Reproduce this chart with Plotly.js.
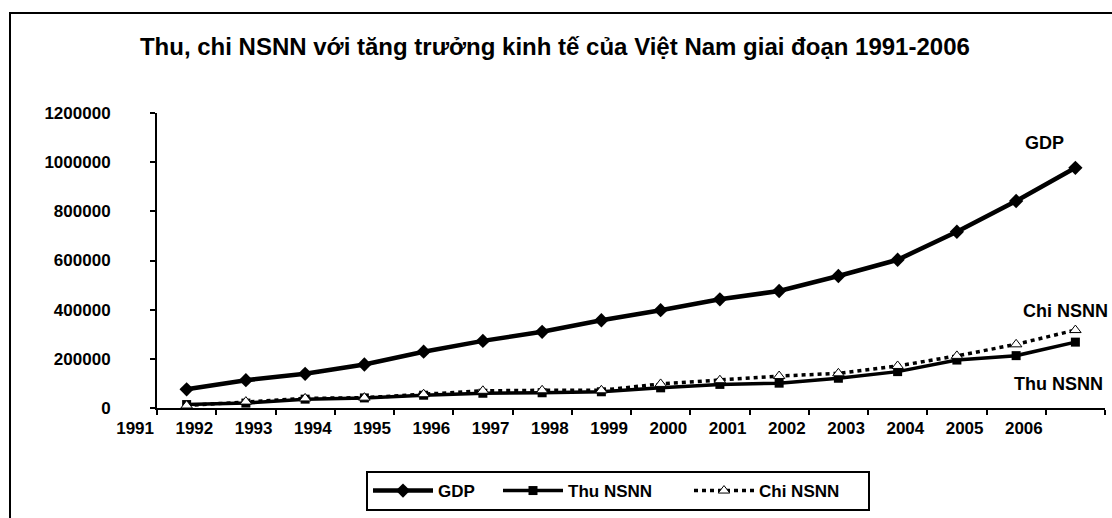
<!DOCTYPE html>
<html>
<head>
<meta charset="utf-8">
<script src="https://cdn.plot.ly/plotly-3.0.1.min.js"></script>
<style>
  html, body { margin: 0; padding: 0; background: #fff; }
  #chart { width: 1112px; height: 518px; }
</style>
</head>
<body>
<div id="chart"></div>
<script>
// ---- Data ----
const years = ['1991','1992','1993','1994','1995','1996','1997','1998','1999','2000','2001','2002','2003','2004','2005','2006'];
const gdp   = [76000, 113000, 139000, 177000, 229000, 273000, 310000, 357000, 398000, 442000, 476000, 537000, 603000, 717000, 842000, 977000];
const thu   = [14000, 20000, 36000, 41000, 52000, 60000, 62000, 66000, 82000, 96000, 101000, 121000, 148000, 195000, 213000, 268000];
const chi   = [10000, 26000, 39000, 42000, 56000, 70000, 72000, 72000, 98000, 113000, 130000, 141000, 171000, 212000, 259000, 317000];
const yTicks = [0, 200000, 400000, 600000, 800000, 1000000, 1200000];
const gridVals = [200000, 400000, 600000, 800000, 1000000];
const seriesNames = ['GDP', 'Thu NSNN', 'Chi NSNN'];
const title = 'Thu, chi NSNN với tăng trưởng kinh tế của Việt Nam giai đoạn 1991-2006';

// ---- Geometry ----
const PL = 100, PR = 1105, AX0 = 157, PT = 113, PB = 408;
const PW = PR - PL, AW = PR - AX0, AH = PB - PT;
const n = years.length;
const unit = AW / n;

const idx = years.map((_, i) => i);
const boundaries = years.map((_, i) => i - 0.5).concat([n - 0.5]);
const labelPos = years.map((_, i) => i - 0.87);
const xr = [-0.5, n - 0.5];
const xr2 = [-0.5 - (AX0 - PL) / unit, n - 0.5];

const FONT = 'Liberation Sans, Arial, sans-serif';
const bold = (size) => ({ family: FONT, size: size, weight: 700, color: '#000' });

const traces = [
  {
    x: idx, y: gdp, name: seriesNames[0], type: 'scatter', mode: 'lines+markers',
    line: { color: '#000', width: 4.5 },
    marker: { symbol: 'diamond', size: 11, color: '#000' },
    legendwidth: 55
  },
  {
    x: idx, y: thu, name: seriesNames[1], type: 'scatter', mode: 'lines+markers',
    line: { color: '#000', width: 3.5 },
    marker: { symbol: 'square', size: 9, color: '#000' },
    legendwidth: 116
  },
  {
    x: idx, y: chi, name: seriesNames[2], type: 'scatter', mode: 'lines+markers',
    line: { color: '#000', width: 3.5, dash: '4px,4px' },
    marker: { symbol: 'triangle-up', size: 10, color: '#fff', line: { color: '#000', width: 1 } },
    legendwidth: 104
  },
  { x: [], y: [], xaxis: 'x2', yaxis: 'y3', showlegend: false, hoverinfo: 'skip' }
];

const layout = {
  width: 1112, height: 518,
  paper_bgcolor: '#fff', plot_bgcolor: 'rgba(0,0,0,0)',
  margin: { l: PL, r: 1112 - PR, t: PT, b: 518 - PB },
  font: bold(17),
  title: {
    text: title, x: 0.499, xanchor: 'center', y: 1 - 47 / 518, yanchor: 'middle',
    font: bold(24)
  },
  showlegend: true,
  legend: {
    orientation: 'h', x: (366 - PL) / PW, xanchor: 'left', y: -(471 - PB) / AH, yanchor: 'top',
    bordercolor: '#000', borderwidth: 2, bgcolor: '#fff',
    itemwidth: 60, traceorder: 'normal',
    font: bold(17)
  },
  xaxis: {
    domain: [(AX0 - PL) / PW, 1], anchor: 'y',
    range: xr, tickmode: 'array', tickvals: boundaries, showticklabels: false,
    ticks: 'outside', ticklen: 5, tickwidth: 2, tickcolor: '#000',
    showline: true, linecolor: '#000', linewidth: 2, showgrid: false, zeroline: false
  },
  xaxis2: {
    domain: [0, 1], anchor: 'y3', range: xr2,
    tickmode: 'array', tickvals: labelPos, ticktext: years,
    ticks: '', showline: false, showgrid: false, zeroline: false,
    ticklabelstandoff: 8,
    tickfont: bold(17)
  },
  yaxis: {
    domain: [0, 1], anchor: 'x',
    range: [0, 1200000], tickmode: 'array', tickvals: yTicks, ticktext: yTicks.map(v => String(v)),
    ticks: 'outside', ticklen: 5, tickwidth: 2, tickcolor: '#000',
    showline: true, linecolor: '#000', linewidth: 2, showgrid: false, zeroline: false,
    ticklabelstandoff: 36,
    tickfont: bold(17)
  },
  yaxis2: {
    overlaying: 'y', anchor: 'x', side: 'left', range: [0, 1200000],
    tickmode: 'array', tickvals: gridVals, showticklabels: false, ticks: '',
    showgrid: true, gridcolor: '#000', gridwidth: 2, showline: false, zeroline: false
  },
  yaxis3: {
    domain: [0, 1], anchor: 'x2', range: [0, 1], visible: false
  },
  annotations: [
    { text: seriesNames[0], xref: 'x domain', yref: 'y domain', x: (1044 - AX0) / AW, y: (PB - 143) / AH,
      showarrow: false, xanchor: 'center', yanchor: 'middle', font: bold(18) },
    { text: seriesNames[2], xref: 'x domain', yref: 'y domain', x: (1065 - AX0) / AW, y: (PB - 311) / AH,
      showarrow: false, xanchor: 'center', yanchor: 'middle', font: bold(18) },
    { text: seriesNames[1], xref: 'x domain', yref: 'y domain', x: (1058 - AX0) / AW, y: (PB - 384) / AH,
      showarrow: false, xanchor: 'center', yanchor: 'middle', font: bold(18) }
  ],
  shapes: [
    { type: 'rect', xref: 'x domain', yref: 'y domain', layer: 'below',
      x0: (10 - AX0) / AW, x1: 1.2, y0: -0.6, y1: (PB - 13) / AH,
      line: { color: '#000', width: 2 }, fillcolor: 'rgba(0,0,0,0)' }
  ]
};

Plotly.newPlot('chart', traces, layout, { staticPlot: true, displayModeBar: false });
</script>
</body>
</html>
